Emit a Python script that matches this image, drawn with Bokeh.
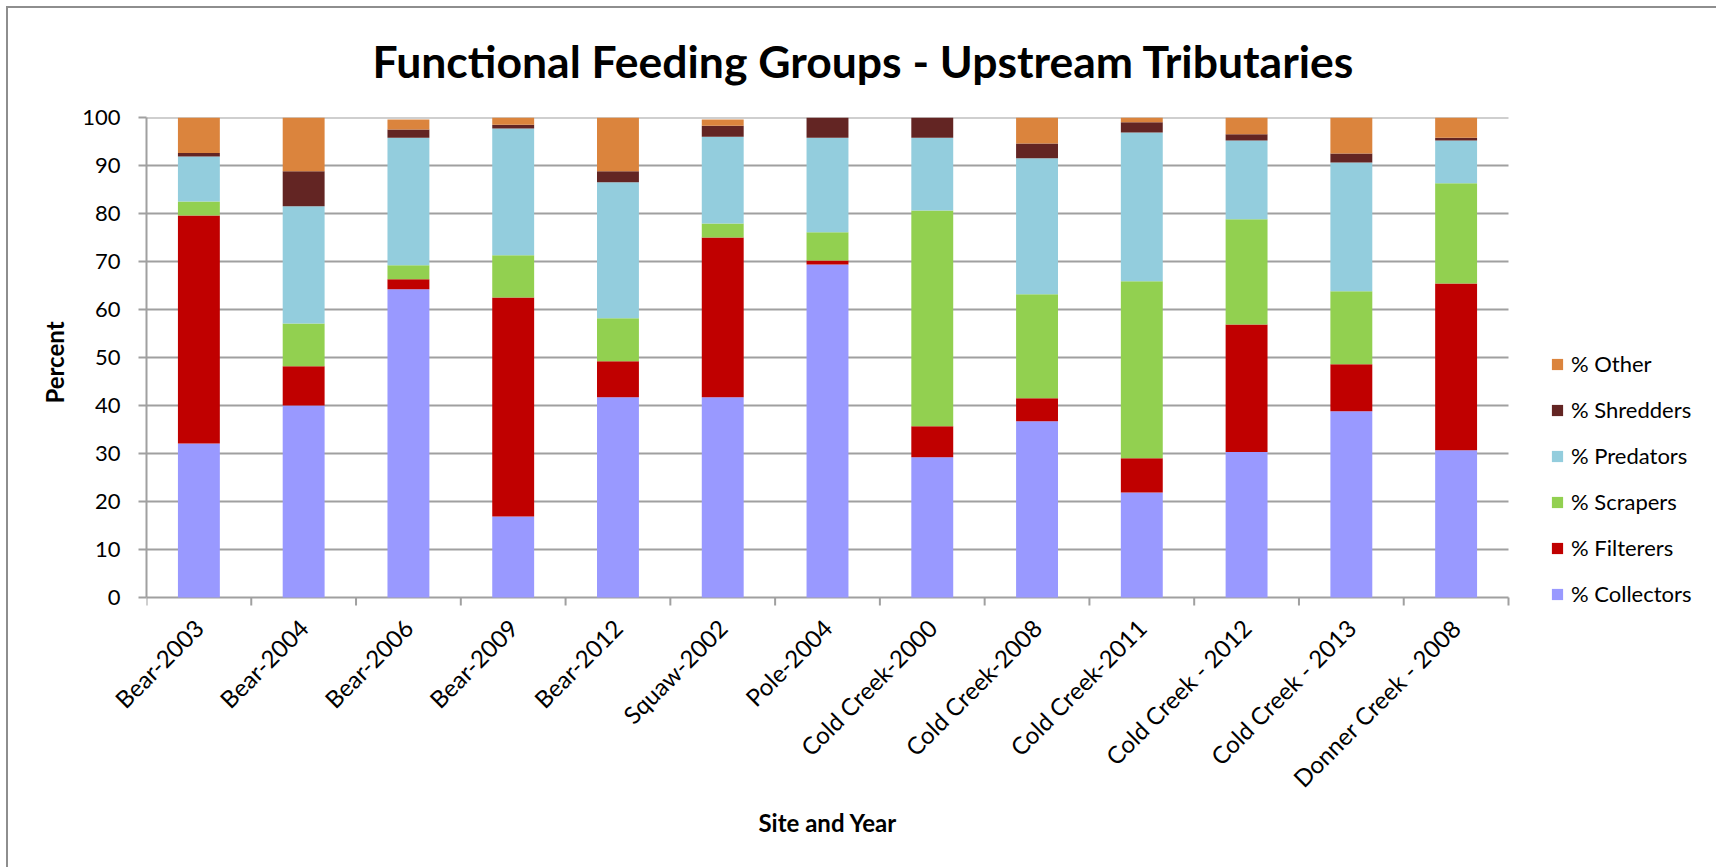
import math
from bokeh.plotting import figure
from bokeh.models import (ColumnDataSource, FixedTicker, CustomJSTickFormatter,
                          Legend, LegendItem, Title, LinearAxis, Range1d)
from bokeh.embed import file_html
from bokeh.resources import INLINE

sites = ["Bear-2003", "Bear-2004", "Bear-2006", "Bear-2009", "Bear-2012",
         "Squaw-2002", "Pole-2004", "Cold Creek-2000", "Cold Creek-2008",
         "Cold Creek-2011", "Cold Creek - 2012", "Cold Creek - 2013",
         "Donner Creek - 2008"]

collectors = [32.1, 40.0, 64.2, 16.9, 41.7, 41.7, 69.4, 29.2, 36.7, 21.9, 30.3, 38.8, 30.7]
filterers  = [47.5, 8.2, 2.1, 45.6, 7.5, 33.3, 0.8, 6.5, 4.8, 7.1, 26.6, 9.8, 34.7]
scrapers   = [2.9, 8.9, 2.9, 8.8, 9.0, 2.9, 5.9, 44.9, 21.7, 36.9, 21.9, 15.2, 20.9]
predators  = [9.4, 24.4, 26.6, 26.4, 28.3, 18.1, 19.7, 15.2, 28.3, 31.0, 16.4, 26.8, 8.9]
shredders  = [0.7, 7.3, 1.7, 0.8, 2.3, 2.3, 4.2, 4.2, 3.1, 2.1, 1.3, 1.9, 0.6]
other      = [7.4, 11.2, 2.1, 1.5, 11.2, 1.3, 0.0, 0.0, 5.4, 1.0, 3.5, 7.5, 4.2]

series = ["% Collectors", "% Filterers", "% Scrapers", "% Predators", "% Shredders", "% Other"]
colors = ["#9999FF", "#C00000", "#92D050", "#93CDDD", "#632523", "#DB843D"]
y_ticks = [0, 10, 20, 30, 40, 50, 60, 70, 80, 90, 100]

FONT = "Lato"
GRID = "#A0A0A0"

W, H = 1716, 867
LEFT, RIGHT_EDGE, TOP, BOTTOM = 146, 1508, 117, 597   # plot-area pixels (y=0 line at BOTTOM)
FRAME_BOTTOM = 607                                   # frame reaches a bit lower (room for legend)

n = len(sites)
xpos = [i + 0.5 for i in range(n)]
xmax = n * (W - LEFT) / (RIGHT_EDGE - LEFT)          # frame runs to the right edge
ymin = -100 * (FRAME_BOTTOM - BOTTOM) / (BOTTOM - TOP)
tick_len = 100 * 8 / (BOTTOM - TOP)                  # 8px boundary ticks below the baseline

source = ColumnDataSource(dict(
    x=xpos,
    c0=collectors, c1=filterers, c2=scrapers, c3=predators, c4=shredders, c5=other,
))
grid_src = ColumnDataSource(dict(y=y_ticks, x0=[0] * len(y_ticks), x1=[n] * len(y_ticks)))
bounds = list(range(n + 1))
tick_src = ColumnDataSource(dict(x=bounds, y0=[0] * len(bounds), y1=[-tick_len] * len(bounds)))

p = figure(width=W, height=H, x_range=Range1d(0, xmax), y_range=Range1d(ymin, 100),
           output_backend="svg", toolbar_location=None)
p.min_border_left = LEFT
p.min_border_right = 0
p.min_border_top = TOP
p.min_border_bottom = H - FRAME_BOTTOM
p.outline_line_color = None
p.background_fill_color = "white"
p.border_fill_alpha = 0

p.title = Title(text="Functional Feeding Groups - Upstream Tributaries",
                align="left", offset=226, vertical_align="middle",
                text_font=FONT, text_font_size="44.5px",
                text_font_style="bold", text_color="black", standoff=60)

# horizontal gridlines (incl. the category axis line at 0) limited to the category area
p.segment(x0="x0", x1="x1", y0="y", y1="y", source=grid_src,
          line_color=GRID, line_width=2)
# category boundary tick marks under the baseline
p.segment(x0="x", x1="x", y0="y0", y1="y1", source=tick_src,
          line_color=GRID, line_width=2)

renderers = p.vbar_stack(["c0", "c1", "c2", "c3", "c4", "c5"], x="x", width=0.4,
                         color=colors, source=source, line_color=None)

# Y axis
p.yaxis.bounds = (0, 100)
p.yaxis.ticker = FixedTicker(ticks=y_ticks)
p.yaxis.axis_line_color = GRID
p.yaxis.axis_line_width = 2
p.yaxis.major_tick_line_color = GRID
p.yaxis.major_tick_line_width = 2
p.yaxis.major_tick_out = 8
p.yaxis.major_tick_in = 0
p.yaxis.minor_tick_line_color = None
p.yaxis.major_label_text_font = FONT
p.yaxis.major_label_text_font_size = "22px"
p.yaxis.major_label_text_color = "black"
p.yaxis.major_label_standoff = 18
p.yaxis.axis_label = "Percent"
p.yaxis.axis_label_text_font = FONT
p.yaxis.axis_label_text_font_size = "24px"
p.yaxis.axis_label_text_font_style = "bold"
p.yaxis.axis_label_text_color = "black"
p.yaxis.axis_label_standoff = 10

# default x axis not used (baseline and ticks are drawn above)
p.xaxis.visible = False

# x axis carrying the rotated category labels
p.extra_x_ranges = {"lab": Range1d(start=0, end=xmax)}
ax2 = LinearAxis(x_range_name="lab")
ax2.bounds = (0, n)
ax2.ticker = FixedTicker(ticks=xpos)
ax2.formatter = CustomJSTickFormatter(args=dict(names=sites),
                                      code="return names[Math.floor(tick)];")
ax2.axis_line_color = None
ax2.major_tick_line_color = None
ax2.minor_tick_line_color = None
ax2.major_tick_out = 0
ax2.major_tick_in = 0
ax2.major_label_orientation = math.pi / 4
ax2.major_label_text_font = FONT
ax2.major_label_text_font_size = "24px"
ax2.major_label_text_color = "black"
ax2.major_label_standoff = 16
p.add_layout(ax2, "below")

# x-axis title, centred under the category area
p.add_layout(Title(text="Site and Year", align="left", offset=612,
                   text_font=FONT, text_font_size="24px", text_font_style="bold",
                   text_color="black", standoff=1), "below")

p.xgrid.visible = False
p.ygrid.visible = False

items = [LegendItem(label=series[i], renderers=[renderers[i]]) for i in reversed(range(6))]
legend = Legend(items=items, location=(1550 - LEFT, 0))
legend.label_text_font = FONT
legend.label_text_font_size = "22px"
legend.label_text_color = "black"
legend.label_height = 26
legend.glyph_height = 14
legend.glyph_width = 14
legend.label_standoff = 7
legend.spacing = 19
legend.padding = 0
legend.margin = 0
legend.border_line_color = None
legend.background_fill_alpha = 0
p.add_layout(legend, "center")

p.styles = {
    "background": "linear-gradient(#8E8E8E, #8E8E8E) 6px 6px / 2px 100% no-repeat, "
                  "linear-gradient(#8E8E8E, #8E8E8E) 6px 6px / 100% 2px no-repeat, white"
}

open("out.html", "w").write(file_html(p, INLINE))
